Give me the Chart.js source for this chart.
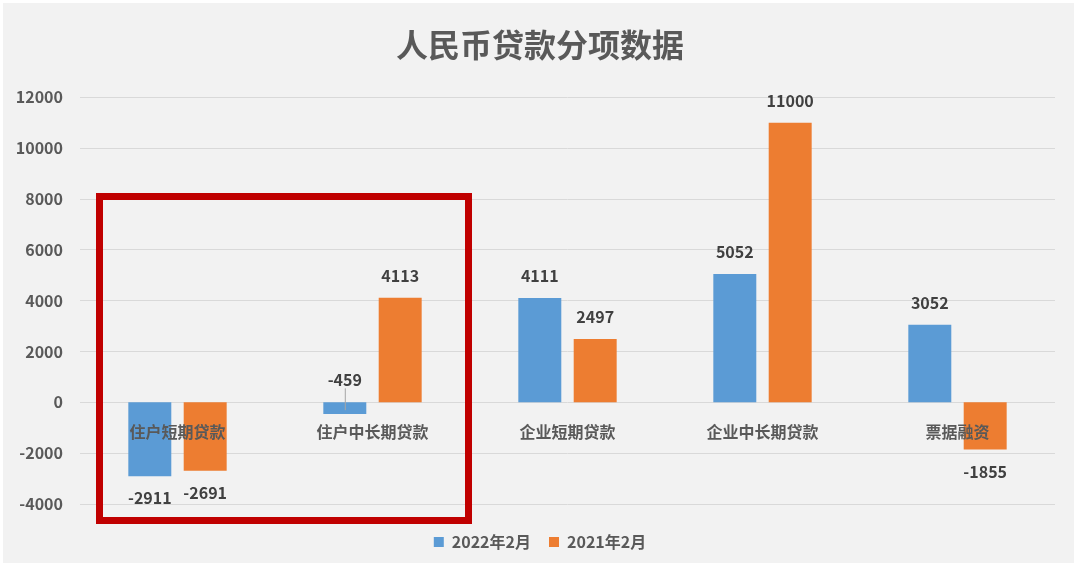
<!DOCTYPE html>
<html>
<head>
<meta charset="utf-8">
<script src="https://cdn.jsdelivr.net/npm/chart.js@4.4.1/dist/chart.umd.min.js"></script>
<style>
html, body { margin: 0; padding: 0; background: #fff; }
#wrap { position: relative; width: 1080px; height: 567px; }
#panel { position: absolute; left: 3px; top: 3px; width: 1071px; height: 560px; background: #f2f2f2; }
#c { position: absolute; left: 0; top: 0; width: 1080px; height: 567px; }
#box { position: absolute; left: 96px; top: 193px; width: 376px; height: 331px;
       border: 7px solid #c00000; box-sizing: border-box; pointer-events: none; }
</style>
</head>
<body>
<div id="wrap">
  <div id="panel"></div>
  <canvas id="c" width="1080" height="567"></canvas>
  <div id="box"></div>
</div>
<script>
const categories = ['住户短期贷款', '住户中长期贷款', '企业短期贷款', '企业中长期贷款', '票据融资'];
const feb2022 = [-2911, -459, 4111, 5052, 3052];
const feb2021 = [-2691, 4113, 2497, 11000, -1855];
const yTicks = [-4000, -2000, 0, 2000, 4000, 6000, 8000, 10000, 12000];

const FONT = '"Noto Sans CJK SC", "Noto Sans", sans-serif';

// value labels: outside the bar end; tiny negative bars get the label above zero with a leader line
const valueLabels = {
    id: 'valueLabels',
    afterDatasetsDraw(chart) {
        const ctx = chart.ctx;
        ctx.save();
        ctx.font = 'bold 16px ' + FONT;
        ctx.fillStyle = '#404040';
        ctx.textAlign = 'center';
        ctx.textBaseline = 'middle';
        chart.data.datasets.forEach((ds, i) => {
            chart.getDatasetMeta(i).data.forEach((bar, j) => {
                const v = ds.data[j];
                const h = Math.abs(bar.base - bar.y);
                let y;
                if (v >= 0) {
                    y = bar.y - 22;
                } else if (h < 20) {
                    y = bar.base - 22;
                    ctx.strokeStyle = '#a6a6a6';
                    ctx.lineWidth = 1;
                    ctx.beginPath();
                    ctx.moveTo(bar.x + 0.5, y + 8);
                    ctx.lineTo(bar.x + 0.5, (bar.base + bar.y) / 2 + 2);
                    ctx.stroke();
                } else {
                    y = bar.y + 22;
                }
                ctx.fillText(String(v), bar.x, y);
            });
        });
        ctx.restore();
    }
};

// empty axis used only to reserve space around the plot
const spacer = (type, position, size) => ({
    type,
    position,
    grid: { display: false, drawTicks: false },
    border: { display: false },
    ticks: { display: false },
    afterFit(scale) {
        if (position === 'bottom') scale.height = size;
        else scale.width = size;
    }
});

new Chart(document.getElementById('c'), {
    type: 'bar',
    data: {
        labels: categories,
        datasets: [
            { label: '2022年2月', data: feb2022, backgroundColor: '#5b9bd5' },
            { label: '2021年2月', data: feb2021, backgroundColor: '#ed7d31' }
        ]
    },
    options: {
        responsive: false,
        animation: false,
        devicePixelRatio: 1,
        categoryPercentage: 0.568,
        barPercentage: 0.776,
        layout: { padding: { left: 0, right: 0, top: 0, bottom: 7 } },
        plugins: {
            title: {
                display: true,
                text: '人民币贷款分项数据',
                color: '#595959',
                font: { family: FONT, size: 32, weight: 'bold' },
                padding: { top: 26, bottom: 33 }
            },
            legend: {
                position: 'bottom',
                labels: {
                    color: '#595959',
                    font: { family: FONT, size: 16, weight: 'bold' },
                    boxWidth: 10,
                    boxHeight: 10,
                    padding: 18
                }
            },
            tooltip: { enabled: false }
        },
        scales: {
            x: {
                position: { y: 0 },
                grid: { display: false, drawTicks: false },
                border: { display: false },
                ticks: {
                    z: 1,
                    color: '#595959',
                    padding: 20,
                    maxRotation: 0,
                    autoSkip: false,
                    font: { family: FONT, size: 16, weight: 'bold' }
                }
            },
            gapBottom: spacer('category', 'bottom', 12),
            gapRight: spacer('linear', 'right', 25),
            y: {
                min: -4000,
                max: 12000,
                afterBuildTicks(scale) { scale.ticks = yTicks.map(v => ({ value: v })); },
                grid: { color: '#d9d9d9', drawTicks: false },
                border: { display: false },
                ticks: {
                    color: '#595959',
                    padding: 17,
                    font: { family: FONT, size: 16, weight: 'bold' },
                    callback: v => String(v)
                },
                afterFit(scale) { scale.width = 80; }
            }
        }
    },
    plugins: [valueLabels]
});
</script>
</body>
</html>
